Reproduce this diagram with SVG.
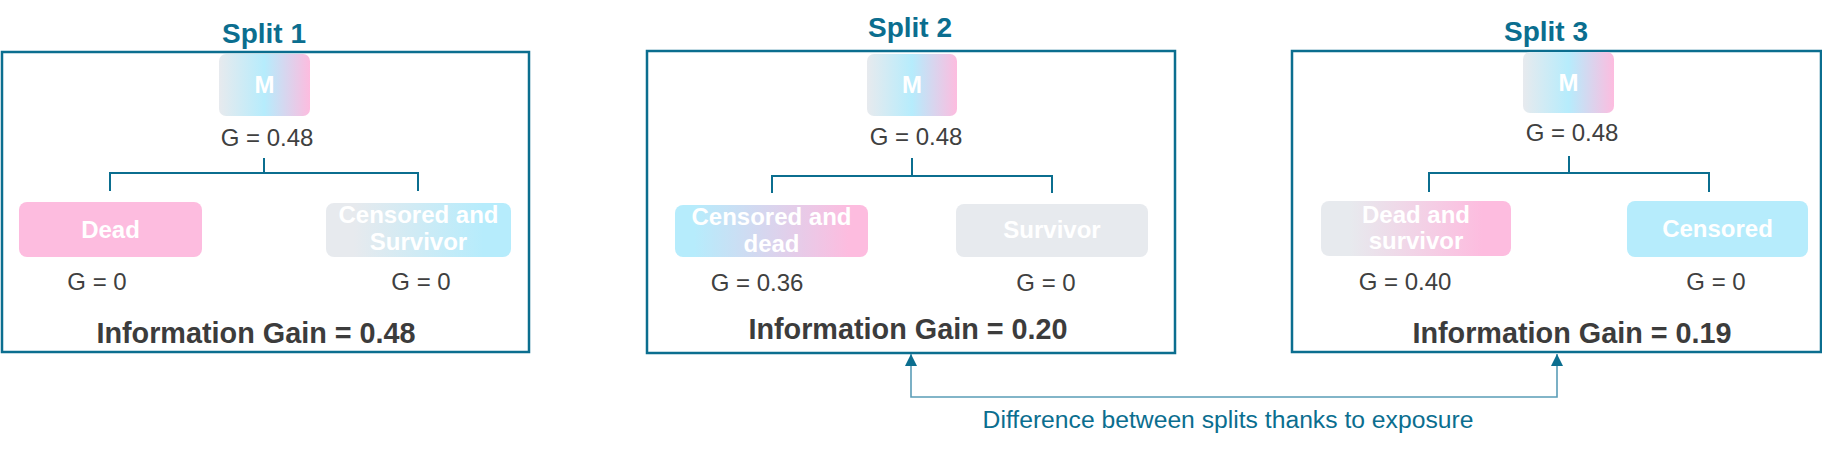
<svg xmlns="http://www.w3.org/2000/svg" width="1822" height="449" viewBox="0 0 1822 449">
<style>
.title{font-family:"Liberation Sans",Arial,sans-serif;font-weight:bold;font-size:28px;fill:#0b6e8f;text-anchor:middle}
.frame{fill:none;stroke:#0b6e8f;stroke-width:2.5}
.nt{font-family:"Liberation Sans",Arial,sans-serif;font-weight:bold;font-size:24px;fill:#ffffff;text-anchor:middle}
.g{font-family:"Liberation Sans",Arial,sans-serif;font-size:24px;fill:#404040;text-anchor:middle}
.ig{font-family:"Liberation Sans",Arial,sans-serif;font-weight:bold;font-size:28.8px;fill:#3c3c3c;text-anchor:middle}
.tree{fill:none;stroke:#0b6e8f;stroke-width:2}
.diff{fill:none;stroke:#5a9db7;stroke-width:1.6}
.note{font-family:"Liberation Sans",Arial,sans-serif;font-size:24.7px;fill:#0b6e8f;text-anchor:middle}
</style>
<defs>
<linearGradient id="gM" x1="0" x2="1" y1="0" y2="0"><stop offset="0" stop-color="#e7eaee"/><stop offset="0.5" stop-color="#b6ecfc"/><stop offset="1" stop-color="#fdbcdf"/></linearGradient>
<linearGradient id="gGC" x1="0" x2="1" y1="0" y2="0"><stop offset="0.15" stop-color="#e7eaee"/><stop offset="0.85" stop-color="#b6ecfc"/></linearGradient>
<linearGradient id="gCP" x1="0" x2="1" y1="0" y2="0"><stop offset="0.1" stop-color="#b6ecfc"/><stop offset="0.9" stop-color="#fdbcdf"/></linearGradient>
<linearGradient id="gGP" x1="0" x2="1" y1="0" y2="0"><stop offset="0.15" stop-color="#e7eaee"/><stop offset="0.85" stop-color="#fdbcdf"/></linearGradient>
<marker id="arr" viewBox="0 0 10 10" refX="10" refY="5" markerWidth="12" markerHeight="12" markerUnits="userSpaceOnUse" orient="auto-start-reverse"><path d="M0,0 L10,5 L0,10 z" fill="#0b6e8f"/></marker>
</defs>

<g id="split1">
<text class="title" x="264" y="43">Split 1</text>
<rect class="frame" x="2" y="52" width="527" height="300"/>
<g id="s1-root"><rect x="219" y="54" width="91" height="62" rx="7" fill="url(#gM)"/><text class="nt" x="264.5" y="93">M</text></g>
<text class="g" x="267" y="146">G = 0.48</text>
<g id="s1-left"><rect x="19" y="202" width="183" height="55" rx="8" fill="#fdbcdf"/><text class="nt" x="110.5" y="238">Dead</text></g>
<g id="s1-right"><rect x="326" y="203" width="185" height="54" rx="8" fill="url(#gGC)"/><text class="nt" x="418.5" y="223">Censored and</text><text class="nt" x="418.5" y="250">Survivor</text></g>
<text class="g" x="97" y="290">G = 0</text>
<text class="g" x="421" y="290">G = 0</text>
<text class="ig" x="256" y="343">Information Gain = 0.48</text>
</g>

<g id="split2">
<text class="title" x="910" y="37">Split 2</text>
<rect class="frame" x="647" y="51" width="528" height="302"/>
<g id="s2-root"><rect x="867" y="54" width="90" height="62" rx="7" fill="url(#gM)"/><text class="nt" x="912" y="93">M</text></g>
<text class="g" x="916" y="145">G = 0.48</text>
<g id="s2-left"><rect x="675" y="205" width="193" height="52" rx="8" fill="url(#gCP)"/><text class="nt" x="771.5" y="225">Censored and</text><text class="nt" x="771.5" y="252">dead</text></g>
<g id="s2-right"><rect x="956" y="204" width="192" height="53" rx="8" fill="#e7eaee"/><text class="nt" x="1052" y="238">Survivor</text></g>
<text class="g" x="757" y="291">G = 0.36</text>
<text class="g" x="1046" y="291">G = 0</text>
<text class="ig" x="908" y="339">Information Gain = 0.20</text>
</g>

<g id="split3">
<text class="title" x="1546" y="41">Split 3</text>
<rect class="frame" x="1292" y="51" width="529" height="301"/>
<g id="s3-root"><rect x="1523" y="52" width="91" height="61" rx="7" fill="url(#gM)"/><text class="nt" x="1568.5" y="91">M</text></g>
<text class="g" x="1572" y="141">G = 0.48</text>
<g id="s3-left"><rect x="1321" y="201" width="190" height="55" rx="8" fill="url(#gGP)"/><text class="nt" x="1416" y="223">Dead and</text><text class="nt" x="1416" y="249">survivor</text></g>
<g id="s3-right"><rect x="1627" y="201" width="181" height="56" rx="8" fill="#b6ecfc"/><text class="nt" x="1717.5" y="237">Censored</text></g>
<text class="g" x="1405" y="290">G = 0.40</text>
<text class="g" x="1716" y="290">G = 0</text>
<text class="ig" x="1572" y="343">Information Gain = 0.19</text>
</g>

<g id="connectors">
<path class="tree" d="M264,158 V173 M110,191 V173 H418 V191"/>
<path class="tree" d="M912,158 V176 M772,193 V176 H1052 V193"/>
<path class="tree" d="M1569,156 V173 M1429,192 V173 H1709 V192"/>
<path class="diff" d="M911,354 V397 H1557 V354" marker-start="url(#arr)" marker-end="url(#arr)"/>
</g>
<text id="note" class="note" x="1228" y="428">Difference between splits thanks to exposure</text>
</svg>
